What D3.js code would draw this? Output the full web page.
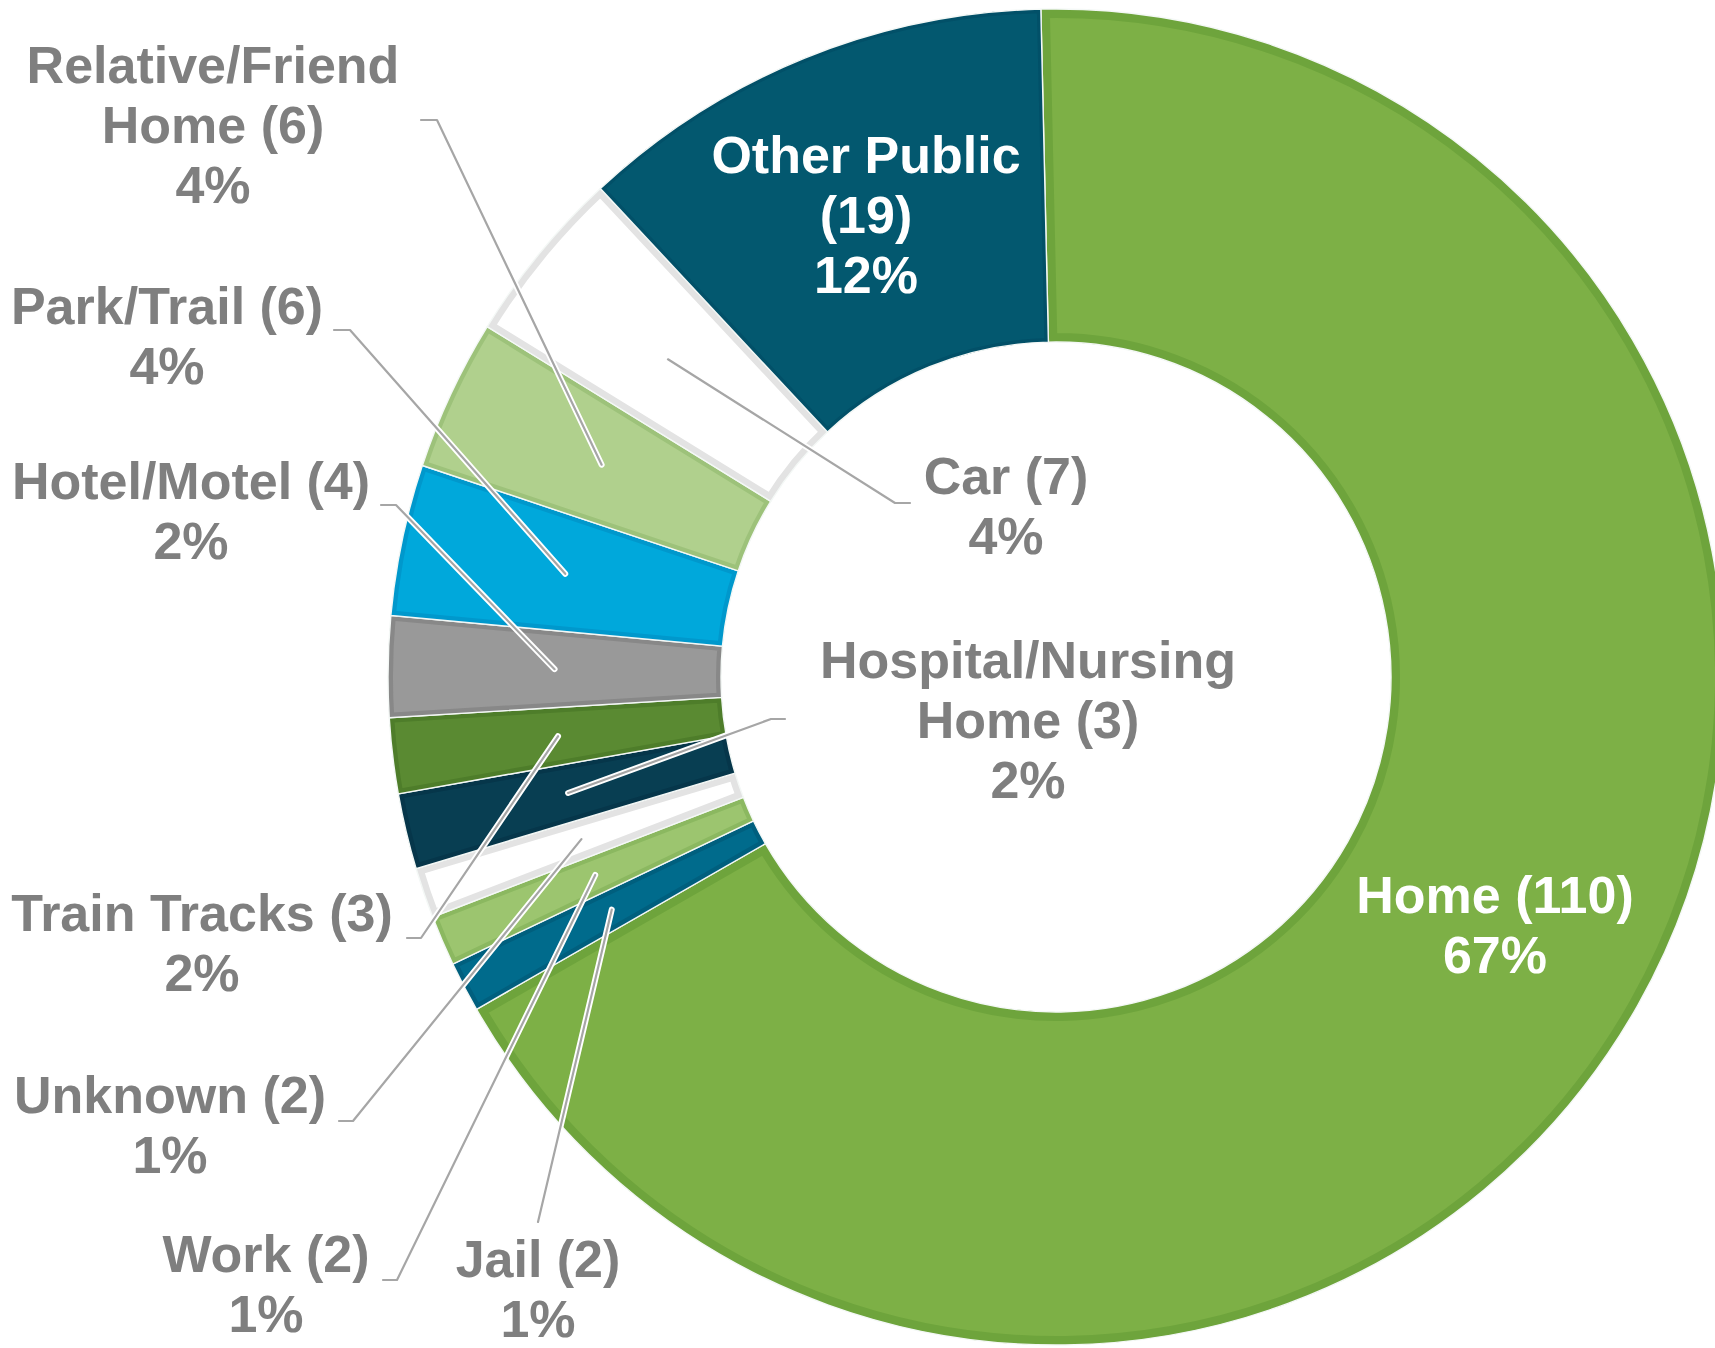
<!DOCTYPE html>
<html>
<head>
<meta charset="utf-8">
<script src="https://cdn.jsdelivr.net/npm/d3@7"></script>
<style>
  html, body { margin: 0; padding: 0; background: #ffffff; }
  svg { display: block; }
</style>
</head>
<body>
<svg id="chart" width="1715" height="1348"></svg>
<script>
// ---------------- data ----------------
const categories = ["Home", "Jail", "Work", "Unknown", "Hospital/Nursing Home", "Train Tracks",
                    "Hotel/Motel", "Park/Trail", "Relative/Friend Home", "Car", "Other Public"];
const counts = [110, 2, 2, 2, 3, 3, 4, 6, 6, 7, 19];
// how each category name is broken over lines in its label
const nameLines = [["Home"], ["Jail"], ["Work"], ["Unknown"], ["Hospital/Nursing", "Home"], ["Train Tracks"],
                   ["Hotel/Motel"], ["Park/Trail"], ["Relative/Friend", "Home"], ["Car"], ["Other Public", ""]];

// ---------------- styles ----------------
const fillColors   = ["#7db046", "#006b8c", "#9cc56f", "#ffffff", "#083e52", "#5a8a32",
                      "#999999", "#00a8db", "#b0d08d", "#ffffff", "#03586f"];
const borderColors = ["#6ea43c", "#005f7e", "#8bb860", "#e3e3e3", "#06364a", "#4e7d2a",
                      "#888888", "#0098cc", "#9dc27a", "#e3e3e3", "#025068"];
const borderWidths = [9, 5, 5, 7, 5, 5, 5, 5, 5, 7, 4];
const labelColors  = ["#ffffff", "#7f7f7f", "#7f7f7f", "#7f7f7f", "#7f7f7f", "#7f7f7f",
                      "#7f7f7f", "#7f7f7f", "#7f7f7f", "#7f7f7f", "#ffffff"];

// label layout: text centre x, first baseline y, leader tick (two points) or null
const labelLayout = [
  { x: 1495, y: 913, tick: null },
  { x: 538,  y: 1277, tick: [[538, 1222], [538, 1222]] },
  { x: 266,  y: 1272, tick: [[383, 1280], [397, 1280]] },
  { x: 170,  y: 1113, tick: [[339, 1121], [353, 1121]] },
  { x: 1028, y: 678, tick: [[785, 719], [771, 719]] },
  { x: 202,  y: 931, tick: [[407, 938], [421, 938]] },
  { x: 191,  y: 499, tick: [[381, 505], [396, 505]] },
  { x: 167,  y: 324, tick: [[334, 330], [350, 330]] },
  { x: 213,  y: 83,  tick: [[421, 120], [437, 120]] },
  { x: 1006, y: 494, tick: [[910, 503], [895, 503]] },
  { x: 866,  y: 173, tick: null }
];

const cx = 1056, cy = 677, rOuter = 668, rInner = 335;
const startDeg = -1.3;
const fontSize = 52, lineHeight = 60;

// ---------------- drawing ----------------
const svg = d3.select("#chart");
const total = d3.sum(counts);
const data = categories.map((c, i) => ({
  name: c, count: counts[i], i,
  pct: Math.round(counts[i] / total * 100) + "%"
}));

const pie = d3.pie().value(d => d.count).sort(null)
  .startAngle(startDeg * Math.PI / 180)
  .endAngle(startDeg * Math.PI / 180 + 2 * Math.PI);
const arcs = pie(data);
const arc = d3.arc().innerRadius(rInner).outerRadius(rOuter);

const defs = svg.append("defs");
defs.selectAll("clipPath").data(arcs).join("clipPath")
  .attr("id", d => "clip" + d.data.i)
  .append("path").attr("d", arc);

const g = svg.append("g").attr("transform", `translate(${cx},${cy})`);

const slice = g.selectAll("g.slice").data(arcs).join("g").attr("class", "slice");
slice.append("path").attr("d", arc).attr("fill", d => fillColors[d.data.i]);
slice.append("path").attr("d", arc)
  .attr("fill", "none")
  .attr("stroke", d => borderColors[d.data.i])
  .attr("stroke-width", d => borderWidths[d.data.i] * 2)
  .attr("stroke-linejoin", "miter")
  .attr("clip-path", d => `url(#clip${d.data.i})`);
slice.append("path").attr("d", arc)
  .attr("fill", "none")
  .attr("stroke", "#f4f8f6")
  .attr("stroke-width", 1.4);

// leader lines
const leaders = arcs.filter(d => labelLayout[d.data.i].tick);
const leaderPts = d => {
  const t = labelLayout[d.data.i].tick;
  const c = arc.centroid(d);
  return [t[0], t[1], [c[0] + cx, c[1] + cy]];
};
const lineGen = d3.line();
const lg = svg.append("g");
lg.selectAll("path.halo").data(leaders).join("path")
  .attr("class", "halo")
  .attr("d", d => lineGen(leaderPts(d)))
  .attr("fill", "none").attr("stroke", "#ffffff").attr("stroke-width", 6)
  .attr("stroke-linecap", "round").attr("stroke-linejoin", "round");
lg.selectAll("path.lead").data(leaders).join("path")
  .attr("class", "lead")
  .attr("d", d => lineGen(leaderPts(d)))
  .attr("fill", "none").attr("stroke", "#a6a6a6").attr("stroke-width", 2.2)
  .attr("stroke-linecap", "round").attr("stroke-linejoin", "round");

// labels
const tg = svg.append("g")
  .attr("font-family", "'Liberation Sans', Arial, sans-serif")
  .attr("font-weight", "bold")
  .attr("font-size", fontSize)
  .attr("text-anchor", "middle");

data.forEach(d => {
  const lines = nameLines[d.i].slice();
  const last = lines.length - 1;
  lines[last] = (lines[last] ? lines[last] + " " : "") + "(" + d.count + ")";
  lines.push(d.pct);
  const L = labelLayout[d.i];
  const t = tg.append("text").attr("fill", labelColors[d.i]);
  lines.forEach((s, k) => {
    t.append("tspan").attr("x", L.x).attr("y", L.y + k * lineHeight).text(s);
  });
});
</script>
</body>
</html>
